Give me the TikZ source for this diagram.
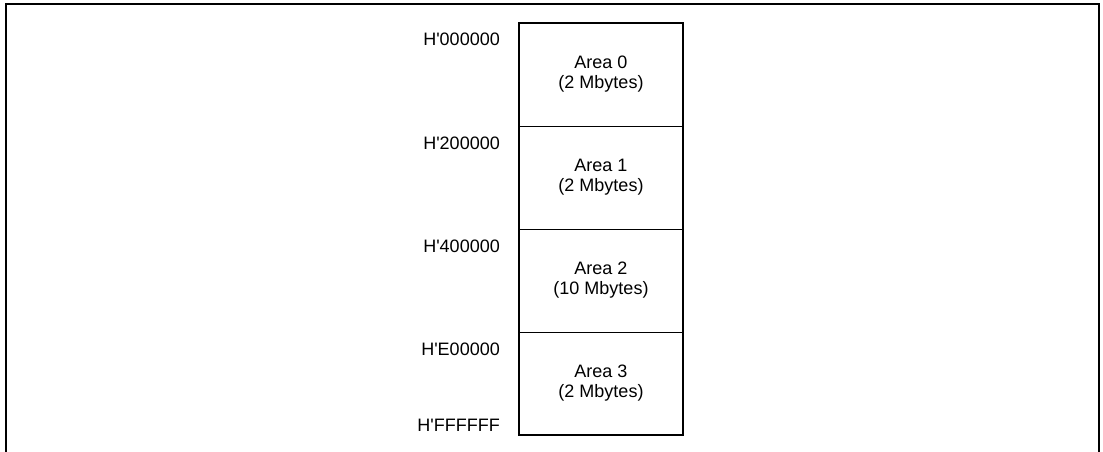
\documentclass[tikz,border=0pt]{standalone}
\usepackage{fontspec}
\setmainfont{Liberation Sans}
\usetikzlibrary{positioning}
\tikzset{
  area/.style={draw, line width=1pt, minimum width=164pt, minimum height=103pt,
    inner sep=0pt, outer sep=0pt, align=center, font=\fontsize{18}{20}\selectfont},
  addr/.style={anchor=base east, inner sep=0pt, font=\fontsize{18}{20}\selectfont}
}
\begin{document}
\begin{tikzpicture}[x=1pt,y=-1pt]
\useasboundingbox (0,0) rectangle (1103,452);
\draw[line width=2pt] (6,452) -- (6,4) -- (1099,4) -- (1099,452);

\node[area, anchor=north west] (a0) at (519,23) {Area 0\\(2 Mbytes)};
\node[area, below=0pt of a0] (a1) {Area 1\\(2 Mbytes)};
\node[area, below=0pt of a1] (a2) {Area 2\\(10 Mbytes)};
\node[area, below=0pt of a2] (a3) {Area 3\\(2 Mbytes)};
\draw[line width=2pt] (a0.north west) rectangle (a3.south east);

\node[addr] at ([xshift=-19pt,yshift=-23pt]a0.north west) {H\textquotesingle000000};
\node[addr] at ([xshift=-19pt,yshift=-23pt]a1.north west) {H\textquotesingle200000};
\node[addr] at ([xshift=-19pt,yshift=-23pt]a2.north west) {H\textquotesingle400000};
\node[addr] at ([xshift=-19pt,yshift=-23pt]a3.north west) {H\textquotesingle E00000};
\node[addr] at ([xshift=-19pt,yshift=4pt]a3.south west) {H\textquotesingle FFFFFF};
\end{tikzpicture}
\end{document}
